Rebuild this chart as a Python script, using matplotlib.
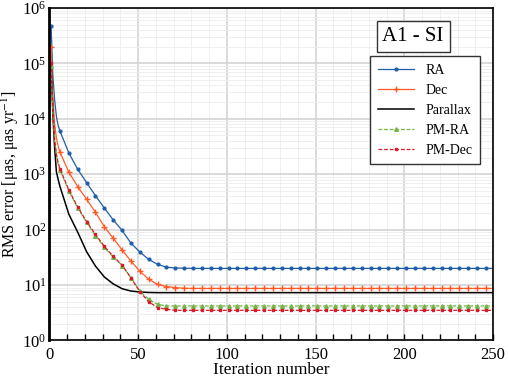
import matplotlib
matplotlib.use("Agg")
import matplotlib.pyplot as plt
from matplotlib.ticker import MultipleLocator, LogLocator, NullFormatter

plt.rcParams['font.family'] = ['Liberation Serif', 'DejaVu Serif']
plt.rcParams['mathtext.fontset'] = 'stix'

# iterations: dense at the start, then every 5
iters = [1, 2, 3, 4, 5, 6, 11, 16, 21, 26, 31, 36, 41, 46, 51, 56, 61, 66, 71, 76,
         81, 86, 91, 96, 101, 106, 111, 116, 121, 126, 131, 136, 141, 146, 151, 156,
         161, 166, 171, 176, 181, 186, 191, 196, 201, 206, 211, 216, 221, 226, 231,
         236, 241, 246, 250]

ra = [4.8e5, 6.0e4, 2.2e4, 1.1e4, 7.5e3, 6.0e3, 2420, 1230, 705, 410, 245, 150, 97,
      57, 39.5, 29, 23.7, 21, 20.4, 20.1, 20, 20, 20, 20, 20, 20, 20, 20, 20, 20, 20,
      20, 20, 20, 20, 20, 20, 20, 20, 20, 20, 20, 20, 20, 20, 20, 20, 20, 20, 20, 20,
      20, 20, 20, 20]
dec = [2.0e5, 2.5e4, 8.0e3, 4.5e3, 3.2e3, 2.5e3, 1090, 597, 354, 205, 113, 70, 43,
       27, 17.8, 12.7, 10.3, 9.4, 9.0, 8.75, 8.7, 8.7, 8.7, 8.7, 8.7, 8.7, 8.7, 8.7,
       8.7, 8.7, 8.7, 8.7, 8.7, 8.7, 8.7, 8.7, 8.7, 8.7, 8.7, 8.7, 8.7, 8.7, 8.7, 8.7,
       8.7, 8.7, 8.7, 8.7, 8.7, 8.7, 8.7, 8.7, 8.7, 8.7, 8.7]
parallax = [1.0e5, 1.2e4, 3.0e3, 1.1e3, 800, 600, 190, 90, 40, 22, 14, 10.5, 8.6,
            7.8, 7.5, 7.35, 7.3, 7.3, 7.3, 7.3, 7.3, 7.3, 7.3, 7.3, 7.3, 7.3, 7.3, 7.3,
            7.3, 7.3, 7.3, 7.3, 7.3, 7.3, 7.3, 7.3, 7.3, 7.3, 7.3, 7.3, 7.3, 7.3, 7.3,
            7.3, 7.3, 7.3, 7.3, 7.3, 7.3, 7.3, 7.3, 7.3, 7.3, 7.3, 7.3]
pm_ra = [9.0e4, 1.3e4, 4.0e3, 2.2e3, 1.5e3, 1.2e3, 500, 245, 135, 78, 48, 32, 22.5,
         13.5, 7.8, 5.5, 4.5, 4.2, 4.2, 4.2, 4.2, 4.2, 4.2, 4.2, 4.2, 4.2, 4.2, 4.2,
         4.2, 4.2, 4.2, 4.2, 4.2, 4.2, 4.2, 4.2, 4.2, 4.2, 4.2, 4.2, 4.2, 4.2, 4.2,
         4.2, 4.2, 4.2, 4.2, 4.2, 4.2, 4.2, 4.2, 4.2, 4.2, 4.2, 4.2]
pm_dec = [1.0e5, 1.4e4, 4.2e3, 2.3e3, 1.6e3, 1.25e3, 520, 255, 140, 82, 50, 33, 23,
          13.5, 7.6, 5.0, 3.9, 3.66, 3.5, 3.5, 3.5, 3.5, 3.5, 3.5, 3.5, 3.5, 3.5, 3.5,
          3.5, 3.5, 3.5, 3.5, 3.5, 3.5, 3.5, 3.5, 3.5, 3.5, 3.5, 3.5, 3.5, 3.5, 3.5,
          3.5, 3.5, 3.5, 3.5, 3.5, 3.5, 3.5, 3.5, 3.5, 3.5, 3.5, 3.5]

# markers only on the every-5 points
marks = [i for i, it in enumerate(iters) if (it - 1) % 5 == 0]

fig = plt.figure(figsize=(5.1, 3.8), dpi=100)
ax = fig.add_axes([0.0967, 0.104, 0.87, 0.875])

ax.plot(iters, ra, color='#1f5ea8', lw=0.9, marker='o', ms=2.0, markevery=marks, label='RA')
ax.plot(iters, dec, color='#ff5a26', lw=0.9, marker='+', ms=4, mew=1.0, markevery=marks, label='Dec')
ax.plot(iters, parallax, color='black', lw=1.1, label='Parallax')
ax.plot(iters, pm_ra, color='#74b446', lw=0.9, ls=(0, (3, 1.5)), marker='^', ms=2.6,
        markevery=marks, label='PM-RA')
ax.plot(iters, pm_dec, color='#d61b2a', lw=0.9, ls=(0, (3, 1.5)), marker='s', ms=1.8,
        markevery=marks, label='PM-Dec')

ax.set_yscale('log')
ax.set_xlim(0, 250)
ax.set_ylim(1, 1e6)
ax.xaxis.set_major_locator(MultipleLocator(50))
ax.xaxis.set_minor_locator(MultipleLocator(10))
ax.yaxis.set_major_locator(LogLocator(base=10, numticks=10))
ax.yaxis.set_minor_locator(LogLocator(base=10, subs=range(2, 10), numticks=20))
ax.yaxis.set_minor_formatter(NullFormatter())

ax.grid(which='major', color='#d4d4d4', lw=1.2)
ax.grid(which='minor', color='#ececec', lw=0.6)
ax.set_axisbelow(True)

ax.tick_params(axis='x', which='both', direction='in', length=4, width=1, labelsize=12, pad=5)
ax.tick_params(axis='y', which='both', length=0, labelsize=12, pad=2)
for s in ax.spines.values():
    s.set_linewidth(1.2)
ax.spines['left'].set_linewidth(2)

ax.set_xlabel('Iteration number', fontsize=12.5, labelpad=-1)
ax.set_ylabel('RMS error [μas, μas yr$^{-1}$]', fontsize=11.5)
ax.yaxis.set_label_coords(-0.063, 0.5)

ax.text(0.82, 0.915, 'A1 - SI', transform=ax.transAxes, fontsize=15, ha='center', va='center',
        bbox=dict(boxstyle='square,pad=0.28', fc='white', ec='#333333', lw=1))

leg = ax.legend(loc='upper right', bbox_to_anchor=(0.97, 0.855), fontsize=10, fancybox=False,
                edgecolor='#333333', framealpha=1, handlelength=2.6, labelspacing=0.5,
                borderpad=0.55, handletextpad=0.8, borderaxespad=0)
leg.get_frame().set_linewidth(1)

fig.savefig('out.png', dpi=100)
